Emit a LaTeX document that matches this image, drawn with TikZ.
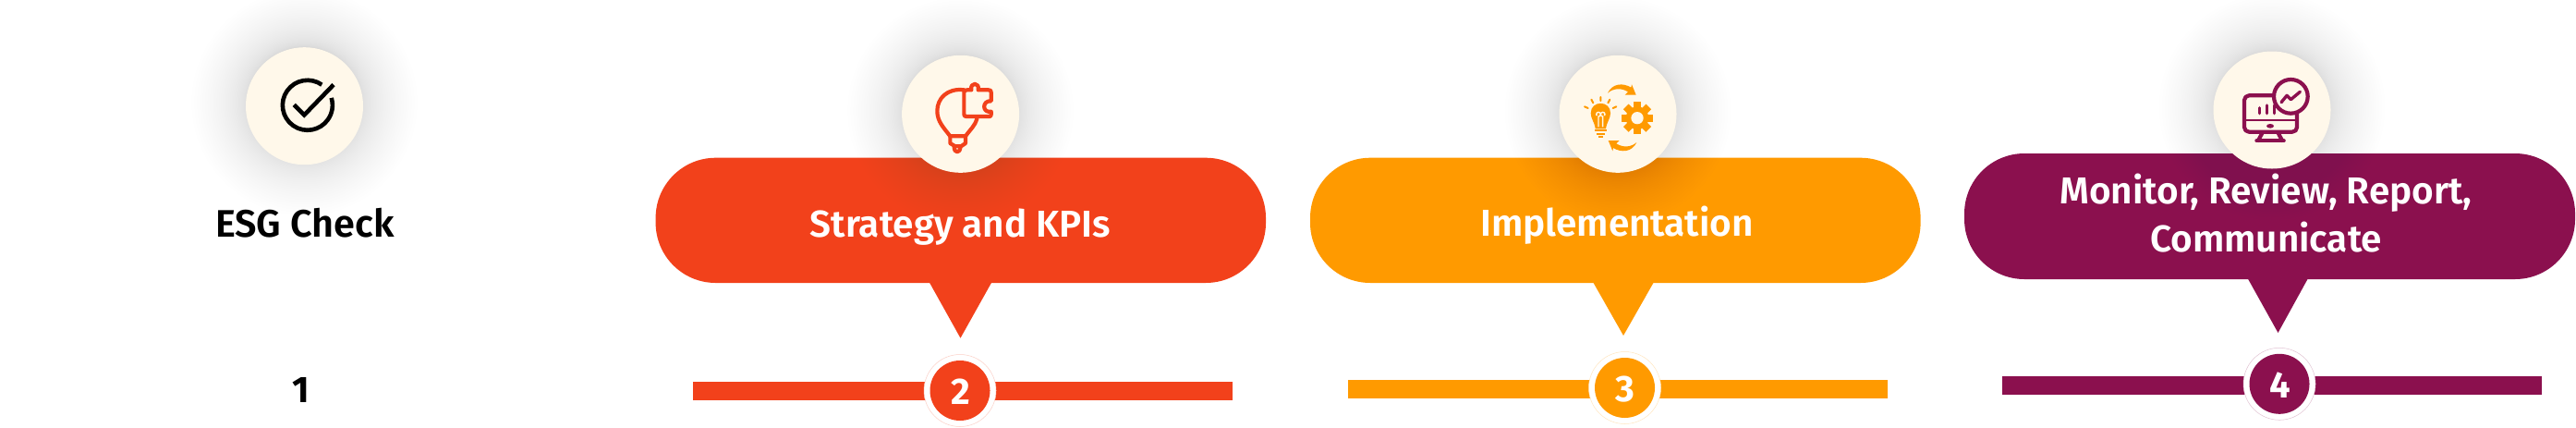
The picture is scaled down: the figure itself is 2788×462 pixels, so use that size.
\documentclass[tikz,border=0pt]{standalone}
\usepackage{fontspec}
\setmainfont{Fira Sans}[BoldFont={Fira Sans SemiBold},Numbers=Lining]
\newfontfamily\numfont{Fira Sans}[Numbers=Lining]
\definecolor{redc}{HTML}{F2411B}
\definecolor{orangec}{HTML}{FF9A00}
\definecolor{maroonc}{HTML}{8B104E}
\definecolor{creamc}{HTML}{FFF8EA}
\newcommand{\softshadow}[2]{%
  \foreach \i in {1,...,40}{
    \pgfmathsetmacro{\rr}{60+62*(\i/40)^2}
    \fill[black!50,fill opacity=0.0072] (#1,#2) circle[radius=\rr];
  }}
\tikzset{
  x=0.5pt,y=-0.5pt,
  label text/.style={anchor=base,inner sep=0pt,text=white,font=\fontsize{20.25}{24}\selectfont\bfseries},
  dark text/.style={label text,text=black,font=\fontsize{20.7}{24}\selectfont\bfseries},
  num text/.style={label text,font=\fontsize{20}{24}\selectfont\numfont\bfseries},
  dark num/.style={num text,text=black},
  icon disc/.style={circle,fill=creamc,minimum size=63.5pt,inner sep=0pt},
  num ring/.style={circle,fill=white,draw=#1!25,line width=0.25pt,minimum size=39pt,inner sep=0pt},
  num disc/.style={circle,fill=#1,minimum size=32.5pt,inner sep=0pt},
  crop/.style 2 args={shift={(#1,#2)},x=0.16667pt,y=-0.16667pt},
  iconline/.style={draw=#1,line width=2.1pt,line join=round,line cap=round},
}
\begin{document}
\begin{tikzpicture}
\useasboundingbox (0,0) rectangle (2788,462);
\fill[white] (0,0) rectangle (2788,462);

% ---------- column 1
\softshadow{329.5}{111}
\node[icon disc] (disc1) at (329.5,114.7) {};
\begin{scope}[crop={250}{40}]
  \draw[black,line width=2.3pt] (295,155) arc[start angle=-55,end angle=-377,radius=81];
  \draw[black,line width=2.3pt,miter limit=10] (205,220) -- (238,253) -- (333,155);
\end{scope}
\node[dark text] (title1) at (330,256) {ESG Check};
\node[dark num] (num1) at (325.7,435) {1};

% ---------- column 2
\fill[redc,rounded corners=32.5pt] (709.6,170.7) rectangle (1370,306);
\fill[redc] (1005.6,305) -- (1073.5,305) -- (1039.5,365.7) -- cycle;
\softshadow{1039.6}{120}
\node[icon disc] (disc2) at (1039.6,123.3) {};
\begin{scope}[crop={960}{60}]
  \draw[iconline=redc] (250,112) .. controls (195,105) and (163,140) .. (163,180)
     .. controls (163,215) and (185,235) .. (205,262) -- (255,262)
     .. controls (270,240) and (285,230) .. (292,205);
  \draw[iconline=redc] (205,262) -- (205,285) -- (222,295) -- (240,295) -- (255,285) -- (255,262);
  \draw[iconline=redc] (218,297) .. controls (218,318) and (238,318) .. (238,297);
  \draw[iconline=redc,fill=creamc] (260,112) -- (274,112)
     .. controls (268,86) and (302,86) .. (296,112) -- (330,112)
     .. controls (336,112) and (338,114) .. (338,120) -- (338,148)
     .. controls (308,145) and (308,188) .. (338,182) -- (338,192)
     .. controls (338,196) and (336,198) .. (332,198) -- (258,198)
     .. controls (252,198) and (250,196) .. (250,190) -- (250,120)
     .. controls (250,114) and (254,112) .. (260,112) -- cycle;
\end{scope}
\node[label text] (title2) at (1039.5,256.7) {Strategy and KPIs};
\fill[redc] (749.8,412.7) rectangle (1334,432.7);
\node[num ring=redc] (ring2) at (1039,422.5) {};
\node[num disc=redc] (numdisc2) at (1039,422.5) {};
\node[num text] (num2) at (1039.6,437) {2};

% ---------- column 3
\fill[orangec,rounded corners=32.5pt] (1418,170.7) rectangle (2078.6,306);
\fill[orangec] (1724,305) -- (1790,305) -- (1757,363) -- cycle;
\softshadow{1751}{120}
\node[icon disc] (disc3) at (1751,123.3) {};
\begin{scope}[crop={1680}{50}]
  \fill[orangec] (180,152) .. controls (195,120) and (230,118) .. (256,134) -- (258,124) -- (272,158) -- (236,158) -- (246,148) .. controls (225,135) and (200,135) .. cycle;
  \fill[orangec] (274,312) .. controls (259,344) and (224,346) .. (198,330) -- (196,340) -- (182,306) -- (218,306) -- (208,316) .. controls (229,329) and (254,329) .. cycle;
  % bulb
  \fill[orangec] (140,268) .. controls (137,245) and (125,235) .. (125,217)
     .. controls (125,175) and (189,175) .. (189,217)
     .. controls (189,235) and (177,245) .. (174,268) -- cycle;
  \draw[creamc,line width=0.7pt] (150,262) -- (150,228) arc[start angle=90,end angle=-220,radius=7];
  \draw[creamc,line width=0.7pt] (164,262) -- (164,228) arc[start angle=90,end angle=400,radius=7];
  \draw[orangec,line width=1pt] (138,274) -- (176,274) (143,284) -- (171,284) (150,294) -- (164,294);
  \draw[orangec,line width=1pt,line cap=round] (157,165) -- (157,177) (127,173) -- (133,184) (187,173) -- (181,184) (105,196) -- (116,201) (208,196) -- (197,201);
  % gear
  \foreach \a in {0,45,...,315}{
    \fill[orangec,rotate around={\a:(276,233)}] (264,181) rectangle (288,210);
  }
  \fill[orangec] (276,233) circle[radius=37];
  \fill[creamc] (276,233) circle[radius=20];
\end{scope}
\node[label text] (title3) at (1750,255.7) {Implementation};
\fill[orangec] (1458.5,411.3) rectangle (2043,431.3);
\node[num ring=orangec] (ring3) at (1758.5,419.5) {};
\node[num disc=orangec] (numdisc3) at (1758.5,419.5) {};
\node[num text] (num3) at (1759,434) {3};

% ---------- column 4
\fill[maroonc,rounded corners=32.5pt] (2126,166) rectangle (2787,302);
\fill[maroonc] (2432.6,301) -- (2498,301) -- (2465.5,360) -- cycle;
\softshadow{2459}{116}
\node[icon disc] (disc4) at (2459,119) {};
\begin{scope}[crop={2380}{40}]
  \draw[iconline=maroonc,rounded corners=2.5pt] (147,190) rectangle (318,308);
  \draw[maroonc,line width=1.1pt] (147,270) -- (318,270);
  \draw[maroonc,line width=1.7pt,line cap=round] (197,230) -- (197,248) (220,222) -- (220,248) (245,222) -- (245,248);
  \fill[maroonc] (231,289) ellipse[x radius=12,y radius=7];
  \draw[iconline=maroonc] (205,312) -- (192,336) (257,312) -- (270,336);
  \draw[iconline=maroonc] (187,337) -- (275,337);
  \draw[iconline=maroonc,fill=creamc] (298,193) circle[radius=55];
  \draw[maroonc,line width=1.7pt,line cap=round,line join=round] (267,212) -- (285,190) -- (298,203) -- (328,178);
\end{scope}
\node[label text] (title4a) at (2452.5,220) {Monitor, Review, Report,};
\node[label text] (title4b) at (2452.5,272.3) {Communicate};
\fill[maroonc] (2167,407.3) rectangle (2751,427.3);
\node[num ring=maroonc] (ring4) at (2467,415.3) {};
\node[num disc=maroonc] (numdisc4) at (2467,415.3) {};
\node[num text] (num4) at (2467.7,430) {4};
\end{tikzpicture}
\end{document}
